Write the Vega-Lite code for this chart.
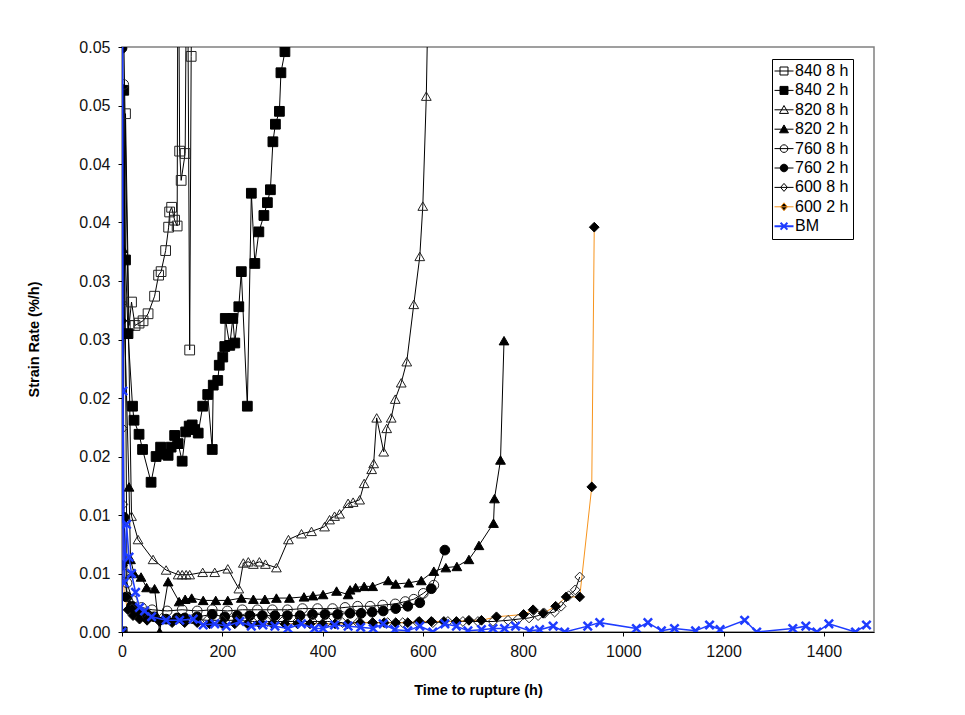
{
  "$schema": "https://vega.github.io/schema/vega-lite/v6.json",
  "width": 752,
  "height": 585,
  "autosize": {"type": "none"},
  "padding": {"left": 122, "top": 47, "right": 91, "bottom": 83},
  "background": "white",
  "config": {
    "font": "Liberation Sans",
    "view": {"stroke": "#808080", "strokeWidth": 1.5},
    "axis": {
      "grid": false,
      "domainColor": "#000",
      "domainWidth": 1,
      "tickColor": "#000",
      "tickSize": 4,
      "labelColor": "#111",
      "labelFontSize": 16,
      "titleFontSize": 14.5,
      "titleFontWeight": "bold",
      "titleColor": "#000"
    }
  },
  "data": {
    "values": [
      {"s":"840 8 h","t":0,"v":0},{"s":"840 8 h","t":7,"v":0.0443},{"s":"840 8 h","t":14,"v":0.0262},{"s":"840 8 h","t":19,"v":0.0282},{"s":"840 8 h","t":26,"v":0.0262},{"s":"840 8 h","t":34,"v":0.0264},{"s":"840 8 h","t":42,"v":0.0266},{"s":"840 8 h","t":52,"v":0.0272},{"s":"840 8 h","t":65,"v":0.0287},{"s":"840 8 h","t":73,"v":0.0305},{"s":"840 8 h","t":78,"v":0.0308},{"s":"840 8 h","t":87,"v":0.0326},{"s":"840 8 h","t":93,"v":0.0346},{"s":"840 8 h","t":95,"v":0.0359},{"s":"840 8 h","t":99,"v":0.0363},{"s":"840 8 h","t":105,"v":0.0352},{"s":"840 8 h","t":110,"v":0.0347},{"s":"840 8 h","t":112,"v":0.065},{"s":"840 8 h","t":115,"v":0.0411},{"s":"840 8 h","t":118,"v":0.0386},{"s":"840 8 h","t":126,"v":0.0409},{"s":"840 8 h","t":130,"v":0.065},{"s":"840 8 h","t":135,"v":0.0241},{"s":"840 8 h","t":138,"v":0.0492},{"s":"840 8 h","t":141,"v":0.065},

      {"s":"840 2 h","t":0,"v":0},{"s":"840 2 h","t":3.5,"v":0.0463},{"s":"840 2 h","t":7,"v":0.0318},{"s":"840 2 h","t":12,"v":0.0255},{"s":"840 2 h","t":21,"v":0.0193},{"s":"840 2 h","t":24,"v":0.0181},{"s":"840 2 h","t":34,"v":0.0169},{"s":"840 2 h","t":41,"v":0.0156},{"s":"840 2 h","t":58,"v":0.0128},{"s":"840 2 h","t":68,"v":0.015},{"s":"840 2 h","t":77,"v":0.0158},{"s":"840 2 h","t":85,"v":0.0152},{"s":"840 2 h","t":92,"v":0.0151},{"s":"840 2 h","t":98,"v":0.0158},{"s":"840 2 h","t":105,"v":0.0168},{"s":"840 2 h","t":112,"v":0.0161},{"s":"840 2 h","t":120,"v":0.0146},{"s":"840 2 h","t":127,"v":0.0171},{"s":"840 2 h","t":134,"v":0.0176},{"s":"840 2 h","t":140,"v":0.0177},{"s":"840 2 h","t":145,"v":0.0173},{"s":"840 2 h","t":152,"v":0.017},{"s":"840 2 h","t":161,"v":0.0193},{"s":"840 2 h","t":171,"v":0.0203},{"s":"840 2 h","t":180,"v":0.0156},{"s":"840 2 h","t":182,"v":0.0211},{"s":"840 2 h","t":191,"v":0.0215},{"s":"840 2 h","t":194,"v":0.0228},{"s":"840 2 h","t":201,"v":0.0235},{"s":"840 2 h","t":205,"v":0.0244},{"s":"840 2 h","t":206,"v":0.0268},{"s":"840 2 h","t":215,"v":0.0245},{"s":"840 2 h","t":221,"v":0.0268},{"s":"840 2 h","t":225,"v":0.0247},{"s":"840 2 h","t":233,"v":0.0278},{"s":"840 2 h","t":238,"v":0.0308},{"s":"840 2 h","t":250,"v":0.0193},{"s":"840 2 h","t":258,"v":0.0375},{"s":"840 2 h","t":265,"v":0.0315},{"s":"840 2 h","t":273,"v":0.0342},{"s":"840 2 h","t":283,"v":0.0356},{"s":"840 2 h","t":290,"v":0.0367},{"s":"840 2 h","t":296,"v":0.0378},{"s":"840 2 h","t":301,"v":0.0419},{"s":"840 2 h","t":306,"v":0.0434},{"s":"840 2 h","t":314,"v":0.0445},{"s":"840 2 h","t":317,"v":0.0478},{"s":"840 2 h","t":325,"v":0.0496},{"s":"840 2 h","t":330,"v":0.065},

      {"s":"820 8 h","t":0,"v":0},{"s":"820 8 h","t":2,"v":0.055},{"s":"820 8 h","t":19,"v":0.0099},{"s":"820 8 h","t":32,"v":0.0079},{"s":"820 8 h","t":62,"v":0.0062},{"s":"820 8 h","t":88,"v":0.0053},{"s":"820 8 h","t":112,"v":0.0049},{"s":"820 8 h","t":120,"v":0.0049},{"s":"820 8 h","t":128,"v":0.0049},{"s":"820 8 h","t":135,"v":0.0049},{"s":"820 8 h","t":161,"v":0.0051},{"s":"820 8 h","t":185,"v":0.0051},{"s":"820 8 h","t":211,"v":0.0054},{"s":"820 8 h","t":233,"v":0.0037},{"s":"820 8 h","t":242,"v":0.0059},{"s":"820 8 h","t":252,"v":0.006},{"s":"820 8 h","t":262,"v":0.0058},{"s":"820 8 h","t":274,"v":0.006},{"s":"820 8 h","t":286,"v":0.0058},{"s":"820 8 h","t":308,"v":0.0055},{"s":"820 8 h","t":332,"v":0.0079},{"s":"820 8 h","t":358,"v":0.0084},{"s":"820 8 h","t":378,"v":0.0086},{"s":"820 8 h","t":404,"v":0.009},{"s":"820 8 h","t":414,"v":0.0096},{"s":"820 8 h","t":424,"v":0.0099},{"s":"820 8 h","t":434,"v":0.0101},{"s":"820 8 h","t":451,"v":0.011},{"s":"820 8 h","t":461,"v":0.0111},{"s":"820 8 h","t":474,"v":0.0113},{"s":"820 8 h","t":483,"v":0.0127},{"s":"820 8 h","t":498,"v":0.0139},{"s":"820 8 h","t":502,"v":0.0144},{"s":"820 8 h","t":508,"v":0.0183},{"s":"820 8 h","t":522,"v":0.0154},{"s":"820 8 h","t":528,"v":0.0174},{"s":"820 8 h","t":537,"v":0.0183},{"s":"820 8 h","t":545,"v":0.0199},{"s":"820 8 h","t":557,"v":0.0213},{"s":"820 8 h","t":568,"v":0.0231},{"s":"820 8 h","t":582,"v":0.028},{"s":"820 8 h","t":594,"v":0.0321},{"s":"820 8 h","t":600,"v":0.0364},{"s":"820 8 h","t":607,"v":0.0458},{"s":"820 8 h","t":615,"v":0.065},

      {"s":"820 2 h","t":0,"v":0},{"s":"820 2 h","t":1,"v":0.0328},{"s":"820 2 h","t":14,"v":0.0124},{"s":"820 2 h","t":17,"v":0.0062},{"s":"820 2 h","t":24,"v":0.005},{"s":"820 2 h","t":38,"v":0.0047},{"s":"820 2 h","t":49,"v":0.0038},{"s":"820 2 h","t":65,"v":0.0037},{"s":"820 2 h","t":75,"v":0},{"s":"820 2 h","t":92,"v":0.0043},{"s":"820 2 h","t":114,"v":0.0026},{"s":"820 2 h","t":126,"v":0.0028},{"s":"820 2 h","t":139,"v":0.0029},{"s":"820 2 h","t":162,"v":0.0027},{"s":"820 2 h","t":187,"v":0.0027},{"s":"820 2 h","t":211,"v":0.0027},{"s":"820 2 h","t":238,"v":0.0029},{"s":"820 2 h","t":262,"v":0.0028},{"s":"820 2 h","t":285,"v":0.0028},{"s":"820 2 h","t":308,"v":0.0029},{"s":"820 2 h","t":334,"v":0.0029},{"s":"820 2 h","t":363,"v":0.003},{"s":"820 2 h","t":381,"v":0.0031},{"s":"820 2 h","t":401,"v":0.0032},{"s":"820 2 h","t":428,"v":0.0035},{"s":"820 2 h","t":451,"v":0.0032},{"s":"820 2 h","t":455,"v":0.0036},{"s":"820 2 h","t":466,"v":0.0038},{"s":"820 2 h","t":483,"v":0.0039},{"s":"820 2 h","t":500,"v":0.0039},{"s":"820 2 h","t":531,"v":0.0044},{"s":"820 2 h","t":546,"v":0.0041},{"s":"820 2 h","t":572,"v":0.0042},{"s":"820 2 h","t":597,"v":0.0044},{"s":"820 2 h","t":622,"v":0.0052},{"s":"820 2 h","t":646,"v":0.0055},{"s":"820 2 h","t":668,"v":0.0056},{"s":"820 2 h","t":692,"v":0.0062},{"s":"820 2 h","t":712,"v":0.0074},{"s":"820 2 h","t":741,"v":0.0093},{"s":"820 2 h","t":743,"v":0.0114},{"s":"820 2 h","t":755,"v":0.0147},{"s":"820 2 h","t":762,"v":0.0249},

      {"s":"760 8 h","t":0,"v":0},{"s":"760 8 h","t":3.4,"v":0.0468},{"s":"760 8 h","t":10,"v":0.0042},{"s":"760 8 h","t":21,"v":0.0027},{"s":"760 8 h","t":39,"v":0.0021},{"s":"760 8 h","t":60,"v":0.0019},{"s":"760 8 h","t":90,"v":0.0018},{"s":"760 8 h","t":120,"v":0.0019},{"s":"760 8 h","t":150,"v":0.0018},{"s":"760 8 h","t":180,"v":0.0019},{"s":"760 8 h","t":210,"v":0.0018},{"s":"760 8 h","t":240,"v":0.0019},{"s":"760 8 h","t":270,"v":0.0019},{"s":"760 8 h","t":300,"v":0.0019},{"s":"760 8 h","t":330,"v":0.0019},{"s":"760 8 h","t":360,"v":0.002},{"s":"760 8 h","t":390,"v":0.002},{"s":"760 8 h","t":420,"v":0.002},{"s":"760 8 h","t":445,"v":0.0021},{"s":"760 8 h","t":470,"v":0.0022},{"s":"760 8 h","t":495,"v":0.0022},{"s":"760 8 h","t":520,"v":0.0023},{"s":"760 8 h","t":545,"v":0.0024},{"s":"760 8 h","t":565,"v":0.0026},{"s":"760 8 h","t":582,"v":0.0028},{"s":"760 8 h","t":601,"v":0.0033},{"s":"760 8 h","t":622,"v":0.004},

      {"s":"760 2 h","t":0,"v":0.0499},{"s":"760 2 h","t":4,"v":0.0098},{"s":"760 2 h","t":10,"v":0.003},{"s":"760 2 h","t":19,"v":0.0022},{"s":"760 2 h","t":26,"v":0.0019},{"s":"760 2 h","t":35,"v":0.0017},{"s":"760 2 h","t":50,"v":0.0015},{"s":"760 2 h","t":64,"v":0.0013},{"s":"760 2 h","t":88,"v":0.0011},{"s":"760 2 h","t":110,"v":0.0012},{"s":"760 2 h","t":125,"v":0.0012},{"s":"760 2 h","t":150,"v":0.0013},{"s":"760 2 h","t":180,"v":0.0015},{"s":"760 2 h","t":205,"v":0.0013},{"s":"760 2 h","t":230,"v":0.0014},{"s":"760 2 h","t":255,"v":0.0014},{"s":"760 2 h","t":280,"v":0.0014},{"s":"760 2 h","t":305,"v":0.0014},{"s":"760 2 h","t":330,"v":0.0014},{"s":"760 2 h","t":355,"v":0.0014},{"s":"760 2 h","t":380,"v":0.0015},{"s":"760 2 h","t":405,"v":0.0015},{"s":"760 2 h","t":430,"v":0.0015},{"s":"760 2 h","t":455,"v":0.0016},{"s":"760 2 h","t":477,"v":0.0016},{"s":"760 2 h","t":499,"v":0.0017},{"s":"760 2 h","t":521,"v":0.0018},{"s":"760 2 h","t":546,"v":0.002},{"s":"760 2 h","t":570,"v":0.0022},{"s":"760 2 h","t":594,"v":0.0025},{"s":"760 2 h","t":617,"v":0.0037},{"s":"760 2 h","t":644,"v":0.007},

      {"s":"600 8 h","t":0,"v":0.0281},{"s":"600 8 h","t":1,"v":0.0174},{"s":"600 8 h","t":2,"v":0.0109},{"s":"600 8 h","t":5,"v":0.005},{"s":"600 8 h","t":10,"v":0.003},{"s":"600 8 h","t":20,"v":0.002},{"s":"600 8 h","t":35,"v":0.0016},{"s":"600 8 h","t":55,"v":0.0013},{"s":"600 8 h","t":80,"v":0.0012},{"s":"600 8 h","t":110,"v":0.0011},{"s":"600 8 h","t":140,"v":0.0011},{"s":"600 8 h","t":170,"v":0.001},{"s":"600 8 h","t":200,"v":0.001},{"s":"600 8 h","t":230,"v":0.001},{"s":"600 8 h","t":260,"v":0.0009},{"s":"600 8 h","t":290,"v":0.0009},{"s":"600 8 h","t":320,"v":0.0009},{"s":"600 8 h","t":350,"v":0.0009},{"s":"600 8 h","t":380,"v":0.0009},{"s":"600 8 h","t":410,"v":0.0009},{"s":"600 8 h","t":440,"v":0.0008},{"s":"600 8 h","t":470,"v":0.0008},{"s":"600 8 h","t":500,"v":0.0008},{"s":"600 8 h","t":530,"v":0.0008},{"s":"600 8 h","t":560,"v":0.0008},{"s":"600 8 h","t":590,"v":0.0008},{"s":"600 8 h","t":620,"v":0.0008},{"s":"600 8 h","t":650,"v":0.0009},{"s":"600 8 h","t":680,"v":0.0009},{"s":"600 8 h","t":710,"v":0.0009},{"s":"600 8 h","t":740,"v":0.0009},{"s":"600 8 h","t":770,"v":0.001},{"s":"600 8 h","t":790,"v":0.0011},{"s":"600 8 h","t":812,"v":0.0012},{"s":"600 8 h","t":830,"v":0.0014},{"s":"600 8 h","t":843,"v":0.0016},{"s":"600 8 h","t":863,"v":0.0017},{"s":"600 8 h","t":876,"v":0.0022},{"s":"600 8 h","t":891,"v":0.0031},{"s":"600 8 h","t":904,"v":0.0036},{"s":"600 8 h","t":913,"v":0.0047},

      {"s":"600 2 h","t":0,"v":0.0266},{"s":"600 2 h","t":1,"v":0.0057},{"s":"600 2 h","t":5,"v":0.003},{"s":"600 2 h","t":12,"v":0.0019},{"s":"600 2 h","t":22,"v":0.0014},{"s":"600 2 h","t":35,"v":0.0011},{"s":"600 2 h","t":50,"v":0.001},{"s":"600 2 h","t":75,"v":0.0009},{"s":"600 2 h","t":100,"v":0.0008},{"s":"600 2 h","t":125,"v":0.0008},{"s":"600 2 h","t":150,"v":0.0008},{"s":"600 2 h","t":175,"v":0.0007},{"s":"600 2 h","t":200,"v":0.0007},{"s":"600 2 h","t":225,"v":0.0007},{"s":"600 2 h","t":250,"v":0.0007},{"s":"600 2 h","t":275,"v":0.0007},{"s":"600 2 h","t":300,"v":0.0007},{"s":"600 2 h","t":325,"v":0.0007},{"s":"600 2 h","t":350,"v":0.0007},{"s":"600 2 h","t":375,"v":0.0007},{"s":"600 2 h","t":400,"v":0.0007},{"s":"600 2 h","t":425,"v":0.0007},{"s":"600 2 h","t":450,"v":0.0007},{"s":"600 2 h","t":475,"v":0.0008},{"s":"600 2 h","t":500,"v":0.0008},{"s":"600 2 h","t":523,"v":0.0008},{"s":"600 2 h","t":546,"v":0.0008},{"s":"600 2 h","t":570,"v":0.0008},{"s":"600 2 h","t":593,"v":0.0009},{"s":"600 2 h","t":617,"v":0.0009},{"s":"600 2 h","t":642,"v":0.0009},{"s":"600 2 h","t":667,"v":0.0009},{"s":"600 2 h","t":692,"v":0.001},{"s":"600 2 h","t":717,"v":0.001},{"s":"600 2 h","t":747,"v":0.0013},{"s":"600 2 h","t":801,"v":0.0015},{"s":"600 2 h","t":820,"v":0.0019},{"s":"600 2 h","t":840,"v":0.0016},{"s":"600 2 h","t":865,"v":0.0022},{"s":"600 2 h","t":886,"v":0.003},{"s":"600 2 h","t":913,"v":0.003},{"s":"600 2 h","t":937,"v":0.0124},{"s":"600 2 h","t":942,"v":0.0346},

      {"s":"BM","t":0,"v":0},{"s":"BM","t":1,"v":0.07},{"s":"BM","t":2,"v":0.0206},{"s":"BM","t":4,"v":0.0042},{"s":"BM","t":9,"v":0.0092},{"s":"BM","t":14,"v":0.0064},{"s":"BM","t":19,"v":0.005},{"s":"BM","t":27,"v":0.0034},{"s":"BM","t":35,"v":0.0021},{"s":"BM","t":45,"v":0.0018},{"s":"BM","t":59,"v":0.0013},{"s":"BM","t":88,"v":0.001},{"s":"BM","t":115,"v":0.001},{"s":"BM","t":142,"v":0.0011},{"s":"BM","t":162,"v":0.0006},{"s":"BM","t":185,"v":0.0007},{"s":"BM","t":208,"v":0.0005},{"s":"BM","t":235,"v":0.0009},{"s":"BM","t":258,"v":0.0005},{"s":"BM","t":281,"v":0.0006},{"s":"BM","t":305,"v":0.0005},{"s":"BM","t":331,"v":0.0003},{"s":"BM","t":358,"v":0.0007},{"s":"BM","t":384,"v":0.0003},{"s":"BM","t":401,"v":0.0003},{"s":"BM","t":424,"v":0.0006},{"s":"BM","t":451,"v":0.0005},{"s":"BM","t":476,"v":0.0004},{"s":"BM","t":501,"v":0.0003},{"s":"BM","t":521,"v":0.0007},{"s":"BM","t":544,"v":0.0002},{"s":"BM","t":570,"v":0.0001},{"s":"BM","t":594,"v":0.0005},{"s":"BM","t":620,"v":0},{"s":"BM","t":644,"v":0.0007},{"s":"BM","t":667,"v":0.0005},{"s":"BM","t":690,"v":0.0001},{"s":"BM","t":717,"v":0.0002},{"s":"BM","t":740,"v":0.0003},{"s":"BM","t":763,"v":0.0003},{"s":"BM","t":785,"v":0.0005},{"s":"BM","t":813,"v":0.0001},{"s":"BM","t":833,"v":0.0002},{"s":"BM","t":860,"v":0.0005},{"s":"BM","t":883,"v":0},{"s":"BM","t":929,"v":0.0005},{"s":"BM","t":953,"v":0.0008},{"s":"BM","t":1026,"v":0.0003},{"s":"BM","t":1049,"v":0.0008},{"s":"BM","t":1076,"v":0.0001},{"s":"BM","t":1102,"v":0.0003},{"s":"BM","t":1144,"v":0.0001},{"s":"BM","t":1172,"v":0.0006},{"s":"BM","t":1193,"v":0.0002},{"s":"BM","t":1242,"v":0.001},{"s":"BM","t":1266,"v":0},{"s":"BM","t":1338,"v":0.0003},{"s":"BM","t":1364,"v":0.0005},{"s":"BM","t":1386,"v":0},{"s":"BM","t":1410,"v":0.0007},{"s":"BM","t":1463,"v":0},{"s":"BM","t":1485,"v":0.0006}
    ]
  },
  "encoding": {
    "x": {
      "field": "t", "type": "quantitative",
      "scale": {"domain": [0, 1500], "nice": false, "zero": false},
      "axis": {
        "values": [0, 200, 400, 600, 800, 1000, 1200, 1400],
        "format": "d",
        "title": "Time to rupture (h)",
        "labelFlush": false,
        "labelPadding": 7,
        "titleX": 356, "titleY": 62, "titleBaseline": "alphabetic", "titleAnchor": "middle", "titleAlign": "center"
      }
    },
    "y": {
      "field": "v", "type": "quantitative",
      "scale": {"domain": [0, 0.05], "nice": false},
      "axis": {
        "values": [0, 0.005, 0.01, 0.015, 0.02, 0.025, 0.03, 0.035, 0.04, 0.045, 0.05],
        "labelExpr": "format(round(datum.value*100+0.0001)/100, '.2f')",
        "labelPadding": 8,
        "title": "Strain Rate (%/h)",
        "titleX": -81, "titleY": 292, "titleBaseline": "bottom", "titleAngle": -90, "titleAlign": "center"
      }
    }
  },
  "layer": [
    {
      "transform": [{"filter": "datum.s !== 'BM'"}],
      "mark": {"type": "line", "clip": true, "strokeWidth": 1},
      "encoding": {
        "color": {
          "field": "s", "type": "nominal", "legend": null,
          "scale": {
            "domain": ["840 8 h","840 2 h","820 8 h","820 2 h","760 8 h","760 2 h","600 8 h","600 2 h"],
            "range": ["#000","#000","#000","#000","#000","#000","#000","#f7941d"]
          }
        }
      }
    },
    {
      "mark": {"type": "point", "clip": true, "filled": true, "opacity": 1},
      "encoding": {
        "size": {"condition": {"test": "datum.s === 'BM'", "value": 70}, "value": 95},
        "strokeWidth": {"condition": {"test": "datum.s === 'BM'", "value": 2.5}, "value": 1},
        "shape": {
          "field": "s", "type": "nominal", "legend": null,
          "scale": {
            "domain": ["BM","840 8 h","840 2 h","820 8 h","820 2 h","760 8 h","760 2 h","600 8 h","600 2 h"],
            "range": ["M-1,-1L1,1M-1,1L1,-1","square","square","triangle-up","triangle-up","circle","circle","diamond","diamond"]
          }
        },
        "stroke": {
          "field": "s", "type": "nominal", "legend": null,
          "scale": {
            "domain": ["600 2 h","600 8 h","760 2 h","760 8 h","820 2 h","820 8 h","840 2 h","840 8 h","BM"],
            "range": ["#000","#222","#000","#222","#000","#222","#000","#222","#1e3cff"]
          }
        },
        "fill": {
          "field": "s", "type": "nominal",
          "scale": {
            "domain": ["840 8 h","840 2 h","820 8 h","820 2 h","760 8 h","760 2 h","600 8 h","600 2 h","BM"],
            "range": ["transparent","#000","transparent","#000","transparent","#000","transparent","#000","transparent"]
          },
          "legend": {
            "orient": "none", "legendX": 650, "legendY": 12, "title": null,
            "labelFontSize": 16, "labelColor": "#000", "labelOffset": 3,
            "symbolSize": 361, "symbolOpacity": 1, "symbolStrokeWidth": 1,
            "padding": 4, "rowPadding": 3.4,
            "strokeColor": "#000", "fillColor": "#fff",
            "encode": {
              "symbols": {
                "update": {
                  "shape": {"signal": "(datum.value==='840 8 h' || datum.value==='840 2 h') ? 'M-1,0H1M-0.42,-0.42H0.42V0.42H-0.42Z' : (datum.value==='820 8 h' || datum.value==='820 2 h') ? 'M-1,0H1M0,-0.45L0.47,0.38L-0.47,0.38Z' : (datum.value==='760 8 h' || datum.value==='760 2 h') ? 'M-1,0H1M-0.4,0A0.4,0.4,0,1,0,0.4,0A0.4,0.4,0,1,0,-0.4,0Z' : (datum.value==='600 8 h' || datum.value==='600 2 h') ? 'M-1,0H1M0,-0.42L0.36,0L0,0.42L-0.36,0Z' : 'M-1,0H1M-0.36,-0.36L0.36,0.36M-0.36,0.36L0.36,-0.36'"},
                  "stroke": {"signal": "datum.value==='600 2 h' ? '#f7941d' : datum.value==='BM' ? '#1e3cff' : '#000'"},
                  "strokeWidth": {"signal": "datum.value==='BM' ? 2 : 1"}
                }
              }
            }
          }
        }
      }
    },
    {
      "transform": [{"filter": "datum.s === 'BM'"}],
      "mark": {"type": "line", "clip": true, "strokeWidth": 1.5, "color": "#1e3cff"},
      "encoding": {}
    }
  ]
}
